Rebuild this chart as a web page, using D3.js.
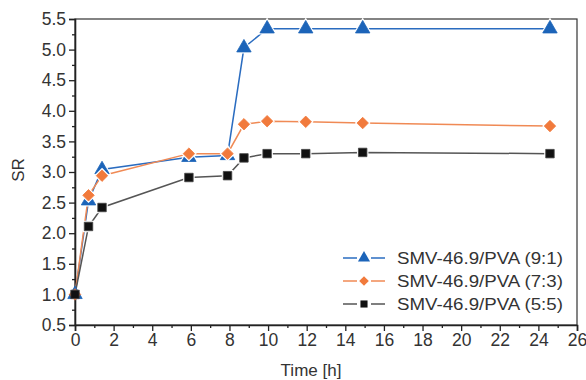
<!DOCTYPE html>
<html><head><meta charset="utf-8">
<script src="https://cdn.jsdelivr.net/npm/d3@7"></script>
<style>body{margin:0;background:#fff}svg{display:block}text{font-family:"Liberation Sans",Arial,sans-serif;fill:#333}</style>
</head><body><svg id="c" width="586" height="380"></svg>
<script>
const time = [0, 0.7, 1.4, 5.9, 7.9, 8.75, 9.95, 11.95, 14.9, 24.6];
const sr91 = [1.0, 2.53, 3.04, 3.24, 3.27, 5.03, 5.34, 5.34, 5.34, 5.34];
const sr73 = [1.0, 2.62, 2.94, 3.30, 3.30, 3.78, 3.83, 3.82, 3.80, 3.75];
const sr55 = [1.0, 2.11, 2.42, 2.91, 2.94, 3.23, 3.30, 3.30, 3.32, 3.30];
const seriesNames = ["SMV-46.9/PVA (9:1)", "SMV-46.9/PVA (7:3)", "SMV-46.9/PVA (5:5)"];
const xTicks = d3.range(0, 27, 2);
const yTicks = [0.5,1.0,1.5,2.0,2.5,3.0,3.5,4.0,4.5,5.0,5.5];

const diamond = {draw(ctx, size){const r = Math.sqrt(size / 2);
  ctx.moveTo(0,-r); ctx.lineTo(r,0); ctx.lineTo(0,r); ctx.lineTo(-r,0); ctx.closePath();}};

const series = [
  {name: seriesNames[0], values: sr91, color: "#1c64b9", line: "#2a6cc0", sym: d3.symbolTriangle, size: 90},
  {name: seriesNames[1], values: sr73, color: "#f17a3c", line: "#f08a55", sym: diamond, size: 66},
  {name: seriesNames[2], values: sr55, color: "#111", line: "#555", sym: d3.symbolSquare, size: 72}
];

const svg = d3.select("#c");
const L = 75, R = 577, T = 19, B = 325;
const x = d3.scaleLinear().domain([0, 26]).range([L, R]);
const y = d3.scaleLinear().domain([0.5, 5.5]).range([B, T]);

svg.append("rect").attr("x", L).attr("y", T).attr("width", R - L).attr("height", B - T)
  .attr("fill", "none").attr("stroke", "#333").attr("stroke-width", 1.2);

svg.append("g").attr("transform", `translate(0,${B})`)
  .call(d3.axisBottom(x).tickValues(xTicks).tickFormat(d3.format("d")).tickSize(6).tickPadding(3));
svg.append("g").attr("transform", `translate(0,${B})`)
  .call(d3.axisBottom(x).tickValues(d3.range(1, 26, 2)).tickFormat("").tickSize(3))
  .call(g => g.select(".domain").remove());
svg.append("g").attr("transform", `translate(${L},0)`)
  .call(d3.axisLeft(y).tickValues(yTicks).tickFormat(d3.format(".1f")).tickSize(6).tickPadding(3));
svg.append("g").attr("transform", `translate(${L},0)`)
  .call(d3.axisLeft(y).tickValues(d3.range(0.75, 5.5, 0.5)).tickFormat("").tickSize(3))
  .call(g => g.select(".domain").remove());
svg.selectAll(".domain").attr("stroke", "#222").attr("stroke-width", 1.6);
svg.selectAll(".tick line").attr("stroke", "#222").attr("stroke-width", 1.3);
svg.selectAll(".tick text").style("font-size", "17.5px").attr("fill", "#333")
  .style("font-family", '"Liberation Sans",Arial,sans-serif');

svg.append("text").attr("x", 311).attr("y", 376).attr("text-anchor", "middle")
  .style("font-size", "17px").text("Time [h]");
svg.append("text").attr("transform", "translate(24,170) rotate(-90)").attr("text-anchor", "middle")
  .style("font-size", "17px").text("SR");

const line = d3.line().x((d, i) => x(time[i])).y(d => y(d));
const plot = svg.append("g");
series.forEach(s => {
  plot.append("path").datum(s.values).attr("d", line).attr("fill", "none")
    .attr("stroke", s.line).attr("stroke-width", 1.5);
});
series.forEach(s => {
  const sym = d3.symbol().type(s.sym).size(s.size);
  plot.selectAll(null).data(s.values.slice(1)).join("path")
    .attr("transform", (d, i) => `translate(${x(time[i + 1])},${y(d)})`)
    .attr("d", sym).attr("fill", "none").attr("stroke", "#fff").attr("stroke-width", 3);
  plot.selectAll(null).data(s.values).join("path")
    .attr("transform", (d, i) => `translate(${x(time[i])},${y(d)})`)
    .attr("d", sym).attr("fill", s.color).attr("stroke", s.color === "#111" ? "#444" : s.color).attr("stroke-width", 0.8);
});

const lg = svg.append("g");
series.forEach((s, i) => {
  const cy = 258 + i * 23;
  lg.append("line").attr("x1", 343).attr("x2", 357).attr("y1", cy).attr("y2", cy).attr("stroke", s.line).attr("stroke-width", 1.5);
  lg.append("line").attr("x1", 371).attr("x2", 385).attr("y1", cy).attr("y2", cy).attr("stroke", s.line).attr("stroke-width", 1.5);
  lg.append("path").attr("transform", `translate(364,${cy})`)
    .attr("d", d3.symbol().type(s.sym).size(s.size * 0.7)).attr("fill", s.color);
  lg.append("text").attr("transform", `translate(397,${cy + 6}) scale(1.1,1)`)
    .style("font-size", "17px").text(s.name);
});
</script></body></html>
